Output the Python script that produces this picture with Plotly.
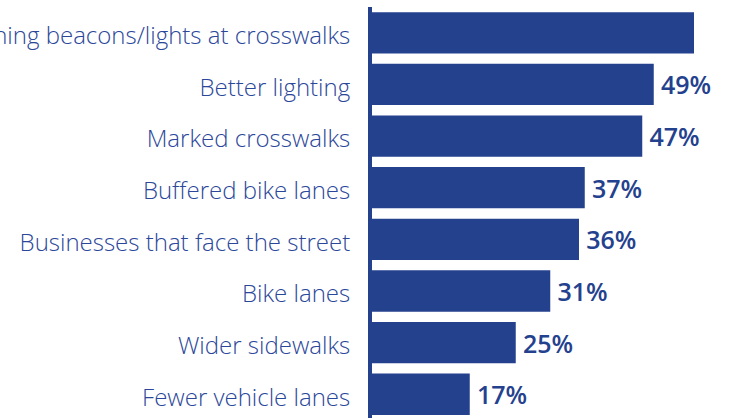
import plotly.graph_objects as go

categories = [
    "Flashing beacons/lights at crosswalks",
    "Better lighting",
    "Marked crosswalks",
    "Buffered bike lanes",
    "Businesses that face the street",
    "Bike lanes",
    "Wider sidewalks",
    "Fewer vehicle lanes",
]
values = [56, 49, 47, 37, 36, 31, 25, 17]
value_labels = [f"\u2009{v}%" for v in values]

BAR = "#24418E"

fig = go.Figure(
    go.Bar(
        x=values,
        y=categories,
        orientation="h",
        marker=dict(color=BAR, line=dict(width=0)),
        text=value_labels,
        textposition=["none"] + ["outside"] * (len(values) - 1),
        textfont=dict(family="Open Sans", size=25, color=BAR, weight=600),
        cliponaxis=False,
        hoverinfo="skip",
    )
)

fig.update_layout(
    template="none",
    width=730,
    height=418,
    margin=dict(l=372, r=0, t=7, b=0),
    paper_bgcolor="white",
    plot_bgcolor="white",
    bargap=0.2,
    showlegend=False,
)
fig.update_xaxes(
    range=[0, 358 / 5.75],
    visible=False,
    automargin=False,
    showgrid=False,
    zeroline=False,
)
fig.update_yaxes(
    categoryorder="array",
    categoryarray=categories,
    range=[7.46, -0.5],
    automargin=False,
    showgrid=False,
    zeroline=False,
    showline=True,
    linewidth=4,
    linecolor=BAR,
    ticks="",
    ticklabelstandoff=13,
    ticklabelshift=-3,
    tickfont=dict(family="Open Sans", size=24, color="#2B479A", weight=300),
)

fig.write_html(
    "out.html",
    config={"displayModeBar": False, "staticPlot": True},
    post_script="document.body.style.margin='0';document.body.style.overflow='hidden';",
)
